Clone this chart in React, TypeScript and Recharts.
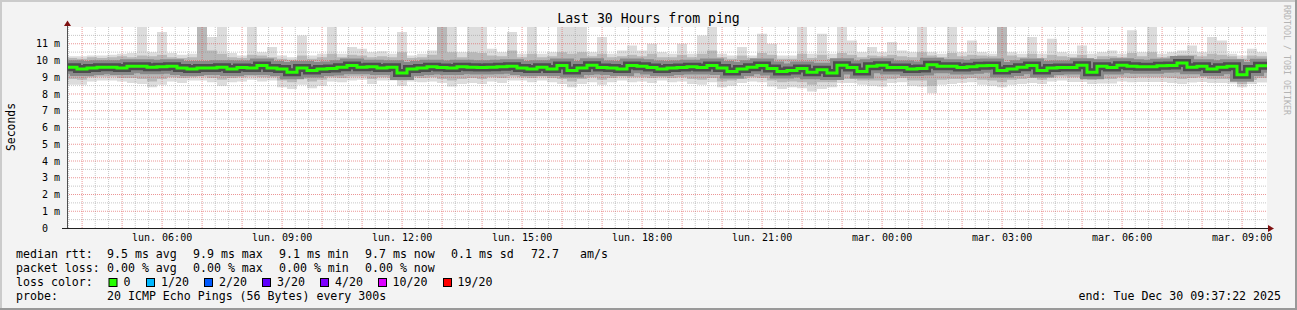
import React from 'react';
import { ComposedChart, Area, Line, XAxis, YAxis, ReferenceLine, CartesianGrid } from 'recharts';

const CHART_W = 1297;
const CHART_H = 310;
const MONO = '"DejaVu Sans Mono", monospace';

// one value per 15-minute step over the 30 hours (window starts Mon 03:37:22)
const STEP_HOURS = 0.25;

const median = [
  9.6, 9.5, 9.55, 9.6, 9.6, 9.55, 9.65, 9.65, 9.6, 9.62, 9.65, 9.55, 9.5, 9.55, 9.55, 9.6, 9.5, 9.58, 9.55, 9.7, 9.55, 9.5, 9.3, 9.55,
  9.4, 9.5, 9.52, 9.6, 9.7, 9.6, 9.62, 9.55, 9.6, 9.25, 9.5, 9.55, 9.62, 9.58, 9.55, 9.62, 9.6, 9.58, 9.6, 9.62, 9.65, 9.55, 9.5, 9.6,
  9.5, 9.7, 9.4, 9.55, 9.72, 9.58, 9.55, 9.5, 9.7, 9.65, 9.58, 9.5, 9.55, 9.58, 9.62, 9.58, 9.7, 9.55, 9.35, 9.5, 9.6, 9.7, 9.52, 9.35,
  9.4, 9.52, 9.3, 9.45, 9.25, 9.72, 9.58, 9.35, 9.65, 9.72, 9.58, 9.58, 9.5, 9.52, 9.74, 9.65, 9.65, 9.58, 9.62, 9.68, 9.7, 9.4, 9.5, 9.6,
  9.7, 9.4, 9.55, 9.58, 9.58, 9.72, 9.3, 9.65, 9.58, 9.72, 9.65, 9.62, 9.62, 9.68, 9.7, 9.85, 9.6, 9.65, 9.5, 9.6, 9.65, 9.15, 9.5, 9.68,
];

const maxRtt = [
  10.25, 10.25, 10.3, 10.3, 10.35, 10.4, 10.45, 12, 10.5, 11.7, 10.45, 10.35, 10.4, 12, 11.4, 12, 10.45, 10.3, 12, 10.5, 10.8, 10.3, 10.2, 11.5,
  10.3, 10.4, 12, 10.4, 10.8, 10.7, 10.5, 10.55, 10.4, 11.7, 10.3, 10.4, 10.6, 12, 12, 10.5, 12, 12, 10.7, 10.5, 11.7, 10.4, 12, 10.4,
  10.5, 12, 12, 12, 10.5, 11.4, 10.4, 10.6, 10.9, 10.6, 11.0, 10.5, 10.4, 11.0, 10.4, 11.5, 12, 10.4, 10.3, 10.8, 10.3, 11.6, 11.0, 10.3,
  10.3, 12, 10.4, 11.6, 10.4, 12, 11.2, 10.5, 10.8, 10.5, 11.1, 10.6, 10.5, 12, 10.5, 10.4, 12, 10.5, 11.2, 10.5, 10.4, 12, 10.5, 10.4,
  11.4, 10.4, 11.3, 10.5, 10.4, 10.9, 10.4, 10.5, 10.6, 10.4, 11.8, 10.5, 12, 10.4, 10.5, 10.6, 10.9, 10.5, 11.4, 11.2, 10.4, 10.3, 10.7, 10.5,
];

const minRtt = [
  8.55, 8.55, 8.75, 8.8, 8.8, 8.75, 8.65, 8.6, 8.4, 8.55, 8.75, 8.65, 8.8, 8.8, 8.7, 8.5, 8.7, 8.75, 8.85, 8.75, 8.8, 8.4, 8.3, 8.55,
  8.35, 8.5, 8.75, 8.7, 8.8, 8.85, 8.6, 8.8, 8.8, 8.5, 8.75, 8.7, 8.75, 8.65, 8.45, 8.6, 8.65, 8.6, 8.75, 8.65, 8.8, 8.8, 8.7, 8.8,
  8.7, 8.6, 8.4, 8.6, 8.7, 8.55, 8.7, 8.8, 8.7, 8.75, 8.65, 8.8, 8.7, 8.75, 8.6, 8.55, 8.7, 8.4, 8.5, 8.65, 8.75, 8.7, 8.45, 8.3,
  8.4, 8.35, 8.15, 8.3, 8.4, 8.65, 8.65, 8.55, 8.5, 8.45, 8.65, 8.7, 8.5, 8.45, 8.05, 8.55, 8.6, 8.65, 8.7, 8.55, 8.5, 8.4, 8.55, 8.6,
  8.65, 8.6, 8.75, 8.8, 8.72, 8.72, 8.6, 8.62, 8.62, 8.75, 8.7, 8.72, 8.72, 8.72, 8.65, 8.6, 8.68, 8.72, 8.65, 8.65, 8.62, 8.4, 8.6, 8.68,
];

const upperMid = [
  10.15, 10.1, 10.2, 10.15, 10.2, 10.25, 10.2, 10.3, 10.25, 10.35, 10.2, 10.15, 10.2, 12, 10.6, 10.4, 10.2, 10.15, 10.35, 10.3, 10.2, 10.1, 10.05, 10.3,
  10.1, 10.2, 10.4, 10.2, 10.35, 10.3, 10.2, 10.25, 10.2, 10.5, 10.15, 10.2, 10.35, 12, 10.5, 10.2, 10.5, 10.45, 10.3, 10.25, 10.6, 10.2, 10.4, 10.2,
  10.25, 10.5, 10.4, 10.5, 10.25, 10.4, 10.2, 10.25, 10.35, 10.25, 10.4, 10.2, 10.2, 10.35, 10.2, 10.4, 10.6, 10.2, 10.1, 10.3, 10.15, 10.45, 10.35, 10.1,
  10.1, 10.4, 10.15, 10.35, 10.1, 10.45, 10.35, 10.2, 10.3, 10.25, 10.35, 10.25, 10.2, 10.5, 10.3, 10.2, 10.45, 10.25, 10.35, 10.3, 10.25, 12, 10.3, 10.2,
  10.4, 10.15, 10.35, 10.25, 10.2, 10.35, 10.1, 10.25, 10.25, 10.2, 10.45, 10.25, 10.5, 10.2, 10.25, 10.35, 10.35, 10.25, 10.4, 10.35, 10.25, 10.1, 10.3, 10.25,
];

const lowerMid = [
  8.9, 8.85, 9.0, 9.05, 9.05, 8.95, 8.95, 8.9, 8.75, 8.9, 9.0, 8.95, 9.0, 9.05, 8.95, 8.85, 8.95, 9.0, 9.05, 9.0, 9.0, 8.8, 8.7, 8.9,
  8.75, 8.85, 9.0, 8.95, 9.05, 9.05, 8.9, 9.0, 9.0, 8.8, 9.0, 8.95, 9.0, 8.9, 8.8, 8.9, 8.95, 8.9, 9.0, 8.95, 9.05, 9.0, 8.95, 9.05,
  8.95, 8.9, 8.75, 8.9, 9.0, 8.85, 8.95, 9.05, 9.0, 9.0, 8.95, 9.0, 8.95, 9.0, 8.9, 8.85, 8.95, 8.75, 8.8, 8.9, 9.0, 8.95, 8.8, 8.7,
  8.75, 8.7, 8.55, 8.7, 8.7, 8.9, 8.9, 8.8, 8.8, 8.8, 8.9, 8.95, 8.8, 8.8, 8.5, 8.85, 8.9, 8.9, 8.95, 8.85, 8.8, 8.7, 8.85, 8.9,
  8.95, 8.85, 9.0, 9.05, 9.0, 9.0, 8.85, 8.9, 8.9, 9.0, 8.95, 9.0, 9.0, 9.0, 8.95, 8.9, 8.95, 9.0, 8.9, 8.9, 8.9, 8.6, 8.85, 8.95,
];

const xTickLabels = ['lun. 06:00', 'lun. 09:00', 'lun. 12:00', 'lun. 15:00', 'lun. 18:00', 'lun. 21:00', 'mar. 00:00', 'mar. 03:00', 'mar. 06:00', 'mar. 09:00'];
// hours after the window start (Mon 03:37:22)
const xTickHours = [2.3772, 5.3772, 8.3772, 11.3772, 14.3772, 17.3772, 20.3772, 23.3772, 26.3772, 29.3772];
const yTickValues = [0, 1, 2, 3, 4, 5, 6, 7, 8, 9, 10, 11];

const legendStats = ['9.5 ms avg', '9.9 ms max', '9.1 ms min', '9.7 ms now', '0.1 ms sd', '72.7', 'am/s'];
const lossStats = ['0.00 % avg', '0.00 % max', '0.00 % min', '0.00 % now'];
const lossLabels = ['0', '1/20', '2/20', '3/20', '4/20', '10/20', '19/20'];
const lossColors = ['#26ff00', '#00b8ff', '#0059ff', '#5e00ff', '#7e00ff', '#dd00ff', '#ff0000'];

// grid positions (axis units)
const hourLines = Array.from({ length: 30 }, (_, i) => 0.37722 + i);
const minorXLines = Array.from({ length: 90 }, (_, i) => i).filter((i) => i % 3 !== 1).map((i) => 0.03944 + i / 3);
const majorYLines = [1, 2, 3, 4, 5, 6, 7, 8, 9, 10, 11];
const minorYLines = [0.5, 1.5, 2.5, 3.5, 4.5, 5.5, 6.5, 7.5, 8.5, 9.5, 10.5, 11.5];

const rows = Array.from({ length: median.length + 1 }, (_, k) => {
  const i = Math.min(k, median.length - 1);
  return {
    t: k * STEP_HOURS,
    outer: [minRtt[i], maxRtt[i]],
    inner: [lowerMid[i], upperMid[i]],
    med: median[i],
  };
});

const YTick = (props: any) => {
  const { y, payload } = props;
  const v = payload.value;
  return (
    <g>
      <text x={48} y={y} dy={3.6} textAnchor="end" fontFamily={MONO} fontSize={10} fill="#000000">{v}</text>
      {v !== 0 && (
        <text x={54} y={y} dy={3.6} fontFamily={MONO} fontSize={10} fill="#000000">m</text>
      )}
    </g>
  );
};

const XTick = (props: any) => {
  const { x, payload } = props;
  const idx = xTickHours.indexOf(payload.value);
  return (
    <text x={x} y={241} textAnchor="middle" fontFamily={MONO} fontSize={10} fill="#000000">
      {idx >= 0 ? xTickLabels[idx] : ''}
    </text>
  );
};

const GRID_GRAY = 'rgba(143,143,143,0.5)';
const GRID_RED = 'rgba(222,80,80,0.6)';

export default function App() {
  const statX = [107, 193, 279, 365, 451, 531, 580];
  const boxX = [108.5, 146, 204, 262, 320, 378, 443];
  const lossLabelX = [123.5, 161, 219, 277, 335, 392.5, 457.5];
  return (
    <div style={{ position: 'absolute', left: 0, top: 0, width: CHART_W, height: CHART_H, background: '#f3f3f3', overflow: 'hidden' }}>
      <ComposedChart width={CHART_W} height={CHART_H} data={rows} margin={{ top: 27, right: 30, bottom: 0, left: 0 }}>
        <CartesianGrid fill="#ffffff" stroke="none" horizontal={false} vertical={false} />
        <XAxis
          type="number"
          dataKey="t"
          domain={[0, 30]}
          ticks={xTickHours}
          interval={0}
          height={82}
          axisLine={false}
          tickLine={false}
          tick={<XTick />}
          allowDataOverflow
        />
        <YAxis
          type="number"
          domain={[0, 12]}
          ticks={yTickValues}
          interval={0}
          width={67}
          axisLine={false}
          tickLine={false}
          tick={<YTick />}
          allowDataOverflow
        />
        <Area dataKey="outer" type="stepAfter" stroke="none" fill="#dcdcdc" fillOpacity={1} isAnimationActive={false} dot={false} activeDot={false} />
        <Area dataKey="inner" type="stepAfter" stroke="none" fill="#b8b8b8" fillOpacity={1} isAnimationActive={false} dot={false} activeDot={false} />
        {minorYLines.map((v) => (
          <ReferenceLine key={'my' + v} y={v} stroke={GRID_GRAY} strokeDasharray="1 1" />
        ))}
        {minorXLines.map((v) => (
          <ReferenceLine key={'mx' + v} x={v} stroke={GRID_GRAY} strokeDasharray="1 1" />
        ))}
        {majorYLines.map((v) => (
          <ReferenceLine key={'My' + v} y={v} stroke={GRID_RED} strokeDasharray="1 1" />
        ))}
        {hourLines.map((v) => (
          <ReferenceLine key={'Mx' + v} x={v} stroke={GRID_RED} strokeDasharray="1 1" />
        ))}
        <Line dataKey="med" type="stepAfter" stroke="#8a8a8a" strokeWidth={14} dot={false} activeDot={false} isAnimationActive={false} />
        <Line dataKey="med" type="stepAfter" stroke="#4e4e4e" strokeWidth={8} dot={false} activeDot={false} isAnimationActive={false} />
        <Line dataKey="med" type="stepAfter" stroke="#26ff00" strokeWidth={3} dot={false} activeDot={false} isAnimationActive={false} />
      </ComposedChart>
      <svg width={CHART_W} height={CHART_H} style={{ position: 'absolute', left: 0, top: 0, pointerEvents: 'none' }}>
        {/* frame */}
        <rect x={0} y={0} width={CHART_W} height={2} fill="#cbcbcb" />
        <rect x={0} y={0} width={2} height={CHART_H} fill="#cbcbcb" />
        <rect x={0} y={CHART_H - 2} width={CHART_W} height={2} fill="#999999" />
        <rect x={CHART_W - 2} y={0} width={2} height={CHART_H} fill="#999999" />
        {/* axes */}
        <line x1={67.5} y1={228} x2={67.5} y2={24} stroke="#505050" strokeWidth={1} />
        <line x1={62} y1={228.5} x2={1270} y2={228.5} stroke="#202020" strokeWidth={1} />
        <polygon points="64,26 71,26 67.5,20.5" fill="#7f1010" />
        <polygon points="1268,225 1268,232 1274,228.5" fill="#7f1010" />
        {/* title */}
        <text x={648.5} y={23} textAnchor="middle" fontFamily={MONO} fontSize={13.2} fill="#000">Last 30 Hours from ping</text>
        <text x={0} y={0} transform="translate(15,127) rotate(-90)" textAnchor="middle" fontFamily={MONO} fontSize={11.4} fill="#000">Seconds</text>
        <text x={0} y={0} transform="translate(1284,5) rotate(90)" fontFamily={MONO} fontSize={8.3} fill="#b4b4b4">RRDTOOL / TOBI OETIKER</text>
        {/* legend */}
        <g fontFamily={MONO} fontSize={11.6} fill="#000">
          <text x={16} y={258}>median rtt:</text>
          {legendStats.map((s, i) => (
            <text key={s} x={statX[i]} y={258}>{s}</text>
          ))}
          <text x={16} y={272}>packet loss:</text>
          {lossStats.map((s, i) => (
            <text key={s} x={statX[i]} y={272}>{s}</text>
          ))}
          <text x={16} y={286}>loss color:</text>
          {lossLabels.map((s, i) => (
            <g key={s}>
              <rect x={boxX[i] + 0.5} y={278.5} width={8} height={8} fill={lossColors[i]} stroke="#000" strokeWidth={1} />
              <text x={lossLabelX[i]} y={286}>{s}</text>
            </g>
          ))}
          <text x={16} y={300}>probe:</text>
          <text x={107} y={300}>20 ICMP Echo Pings (56 Bytes) every 300s</text>
          <text x={1281} y={300} textAnchor="end">end: Tue Dec 30 09:37:22 2025</text>
        </g>
      </svg>
    </div>
  );
}
